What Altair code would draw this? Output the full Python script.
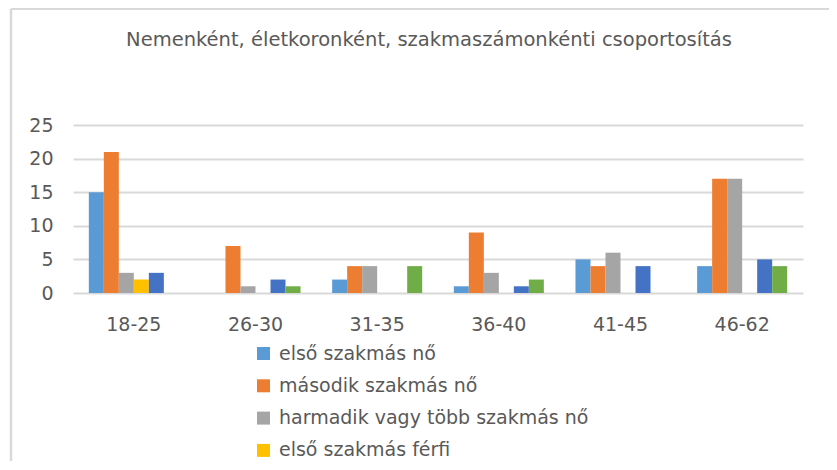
import altair as alt
import pandas as pd

categories = ["18-25", "26-30", "31-35", "36-40", "41-45", "46-62"]
series = [
    "első szakmás nő",
    "második szakmás nő",
    "harmadik vagy több szakmás nő",
    "első szakmás férfi",
    "második szakmás férfi",
    "harmadik vagy több szakmás férfi",
]
elso_no = [15, 0, 2, 1, 5, 4]
masodik_no = [21, 7, 4, 9, 4, 17]
harmadik_no = [3, 1, 4, 3, 6, 17]
elso_ferfi = [2, 0, 0, 0, 0, 0]
masodik_ferfi = [3, 2, 0, 1, 4, 5]
harmadik_ferfi = [0, 1, 4, 2, 0, 4]
colors = ["#5B9BD5", "#ED7D31", "#A5A5A5", "#FFC000", "#4472C4", "#70AD47"]
y_ticks = [0, 5, 10, 15, 20, 25]
legend_shown = series[:4]

all_values = [elso_no, masodik_no, harmadik_no, elso_ferfi, masodik_ferfi, harmadik_ferfi]
rows = []
for s, vals in zip(series, all_values):
    for c, v in zip(categories, vals):
        rows.append({"age": c, "series": s, "value": v})
df = pd.DataFrame(rows)

FONT = "DejaVu Sans"
GRAY = "#595959"
GRID = "#d9d9d9"

bars = alt.Chart(df).mark_bar().encode(
    x=alt.X(
        "age:N",
        sort=categories,
        title=None,
        scale=alt.Scale(paddingInner=0.26, paddingOuter=0.13),
        axis=alt.Axis(labelAngle=0, ticks=False, domain=False, labelPadding=22,
                      labelFontSize=19, labelColor=GRAY, labelFont=FONT),
    ),
    xOffset=alt.XOffset("series:N", sort=series,
                        scale=alt.Scale(paddingInner=0, paddingOuter=0)),
    y=alt.Y(
        "value:Q",
        title=None,
        scale=alt.Scale(domain=[0, 25], nice=False),
        axis=alt.Axis(values=y_ticks, ticks=False, domain=False, labelPadding=20,
                      labelFontSize=19, labelColor=GRAY, labelFont=FONT,
                      gridColor=GRID, gridWidth=2),
    ),
    color=alt.Color(
        "series:N",
        sort=series,
        scale=alt.Scale(domain=series, range=colors),
        legend=alt.Legend(
            title=None, orient="none", legendX=181, legendY=219,
            direction="vertical", symbolType="square", symbolSize=169,
            symbolStrokeWidth=0, labelFontSize=19, labelColor=GRAY,
            labelFont=FONT, labelOffset=6, rowPadding=12.3, labelLimit=500,
            values=legend_shown,
        ),
    ),
)

border_left = alt.Chart(alt.Data(values=[{}])).mark_rule(color=GRID, strokeWidth=2.5).encode(
    x=alt.value(-62), y=alt.value(-116), y2=alt.value(400)
)
border_top = alt.Chart(alt.Data(values=[{}])).mark_rule(color=GRID, strokeWidth=2).encode(
    x=alt.value(-62), x2=alt.value(800), y=alt.value(-116)
)

chart = alt.layer(border_left, border_top, bars).properties(
    width=730,
    height=168,
    autosize=alt.AutoSizeParams(type="none"),
    padding={"left": 65, "top": 117, "right": 26, "bottom": 168},
    title=alt.Title(
        "Nemenként, életkoronként, szakmaszámonkénti csoportosítás",
        fontSize=19.5, color=GRAY, font=FONT, fontWeight="normal",
        frame="group", anchor="middle", offset=-43, dx=-9,
    ),
).configure_view(stroke=None)

chart.save("out.html", embed_options={"renderer": "svg", "actions": False})
